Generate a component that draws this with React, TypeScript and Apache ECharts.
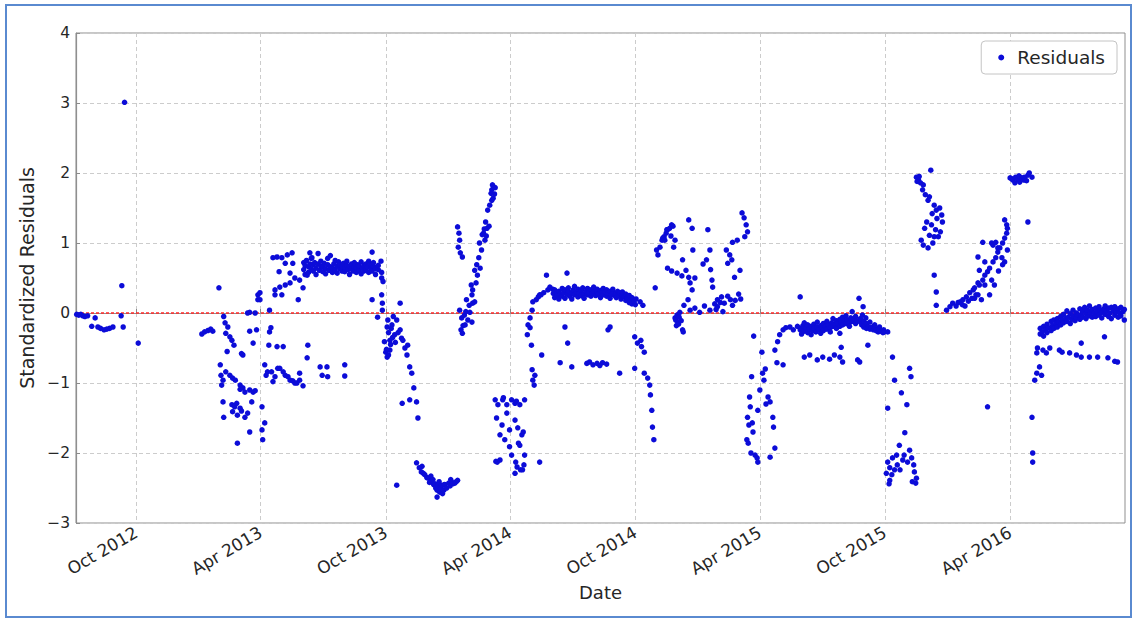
import { useEffect, useRef } from "react";
import * as echarts from "echarts";

type Obs = [string, number];

// Date range shown on the x axis and the half-yearly tick dates
const xStart = "2012-07-05";
const xEnd = "2016-09-16";
const xTickDates = [
  "2012-10-01", "2013-04-01", "2013-10-01", "2014-04-01",
  "2014-10-01", "2015-04-01", "2015-10-01", "2016-04-01",
];
const yTicks = [-3, -2, -1, 0, 1, 2, 3, 4];
const monthNames = ["Jan", "Feb", "Mar", "Apr", "May", "Jun", "Jul", "Aug", "Sep", "Oct", "Nov", "Dec"];

// Standardized residuals, grouped by period
const res2012: Obs[] = [
  ["2012-07-06", -0.02], ["2012-07-09", -0.03], ["2012-07-12", -0.02], ["2012-07-15", -0.04],
  ["2012-07-18", -0.05], ["2012-07-22", -0.04], ["2012-07-28", -0.19], ["2012-08-02", -0.07],
  ["2012-08-06", -0.2], ["2012-08-10", -0.22], ["2012-08-15", -0.24], ["2012-08-19", -0.23],
  ["2012-08-23", -0.22], ["2012-08-28", -0.2], ["2012-09-09", -0.04], ["2012-09-10", 0.39],
  ["2012-09-12", -0.2], ["2012-09-14", 3.01], ["2012-10-04", -0.43],
];

const res2013a: Obs[] = [
  ["2013-01-05", -0.3], ["2013-01-09", -0.27], ["2013-01-14", -0.25], ["2013-01-18", -0.23],
  ["2013-01-21", -0.26], ["2013-01-30", 0.36],
  ["2013-02-01", -0.74], ["2013-02-02", -0.89], ["2013-02-03", -1.03], ["2013-02-05", -0.96],
  ["2013-02-05", -1.27], ["2013-02-06", -0.05], ["2013-02-06", -1.49], ["2013-02-08", -0.14],
  ["2013-02-09", -0.29], ["2013-02-09", -0.84], ["2013-02-11", -0.55], ["2013-02-12", -0.2],
  ["2013-02-15", -0.34], ["2013-02-15", -0.89], ["2013-02-18", -0.39], ["2013-02-18", -1.31],
  ["2013-02-19", -0.93], ["2013-02-19", -1.41], ["2013-02-21", -0.46], ["2013-02-22", -1.34],
  ["2013-02-23", -0.96], ["2013-02-25", -1.29], ["2013-02-26", -1.86], ["2013-02-26", -1.46],
  ["2013-03-02", -1.03], ["2013-03-02", -1.09], ["2013-03-02", -1.36], ["2013-03-04", -0.58],
  ["2013-03-04", -1.4], ["2013-03-06", -1.07], ["2013-03-06", -0.6], ["2013-03-09", -1.13],
  ["2013-03-09", -1.49], ["2013-03-13", -1.43], ["2013-03-13", 0.0], ["2013-03-16", -1.1],
  ["2013-03-16", -1.7], ["2013-03-16", -0.26], ["2013-03-16", 0.01], ["2013-03-19", -1.27],
  ["2013-03-21", -1.13], ["2013-03-21", -0.43], ["2013-03-24", -1.11], ["2013-03-24", 0.0],
  ["2013-03-26", -0.24], ["2013-03-28", 0.26], ["2013-03-28", 0.19], ["2013-03-31", 0.19],
  ["2013-03-31", 0.29],
  ["2013-04-03", -1.34], ["2013-04-03", -1.67], ["2013-04-04", -1.81], ["2013-04-07", -1.57],
  ["2013-04-07", -0.74], ["2013-04-09", -0.89], ["2013-04-11", -0.84], ["2013-04-13", -0.46],
  ["2013-04-14", 0.04], ["2013-04-14", -0.27], ["2013-04-16", -0.21], ["2013-04-17", -0.84],
  ["2013-04-19", 0.79], ["2013-04-19", -0.98], ["2013-04-22", 0.33], ["2013-04-22", 0.26],
  ["2013-04-22", -0.91], ["2013-04-25", 0.8], ["2013-04-25", -0.48], ["2013-04-26", -0.79],
  ["2013-04-28", 0.59], ["2013-04-29", 0.37], ["2013-04-29", -0.79],
  ["2013-05-02", 0.79], ["2013-05-02", 0.26], ["2013-05-04", -0.48], ["2013-05-04", -0.84],
  ["2013-05-07", 0.71], ["2013-05-07", 0.4], ["2013-05-07", -0.89], ["2013-05-10", 0.83],
  ["2013-05-11", -0.91], ["2013-05-14", 0.57], ["2013-05-14", 0.43], ["2013-05-14", -0.96],
  ["2013-05-17", 0.86], ["2013-05-18", 0.71], ["2013-05-18", -0.97], ["2013-05-21", 0.5],
  ["2013-05-21", -1.0], ["2013-05-24", -1.0], ["2013-05-26", 0.19], ["2013-05-28", 0.47],
  ["2013-05-28", -0.86], ["2013-05-28", -0.96],
];

const res2013b: Obs[] = [
  ["2013-06-02", 0.36], ["2013-06-02", -1.04], ["2013-06-03", 0.62], ["2013-06-03", 0.72],
  ["2013-06-05", 0.68], ["2013-06-05", 0.55], ["2013-06-07", 0.75], ["2013-06-08", 0.54],
  ["2013-06-08", -0.64], ["2013-06-09", -0.46], ["2013-06-10", 0.66], ["2013-06-10", 0.58],
  ["2013-06-12", 0.86], ["2013-06-12", 0.7], ["2013-06-14", 0.63], ["2013-06-14", 0.78],
  ["2013-06-15", 0.79], ["2013-06-17", 0.6], ["2013-06-17", 0.69], ["2013-06-19", 0.72],
  ["2013-06-21", 0.64], ["2013-06-21", 0.55], ["2013-06-24", 0.7], ["2013-06-24", 0.85],
  ["2013-06-26", 0.61], ["2013-06-27", -0.77], ["2013-06-28", 0.67], ["2013-06-28", 0.74],
  ["2013-06-30", -0.89], ["2013-07-01", 0.59], ["2013-07-01", 0.66], ["2013-07-03", 0.71],
  ["2013-07-05", 0.63], ["2013-07-05", 0.56], ["2013-07-07", -0.77], ["2013-07-08", 0.69],
  ["2013-07-08", 0.78], ["2013-07-08", -0.91], ["2013-07-10", 0.61], ["2013-07-12", 0.66],
  ["2013-07-12", 0.82], ["2013-07-15", 0.58], ["2013-07-15", 0.64], ["2013-07-17", 0.7],
  ["2013-07-19", 0.62], ["2013-07-19", 0.75], ["2013-07-22", 0.67], ["2013-07-22", 0.57],
  ["2013-07-24", 0.73], ["2013-07-26", 0.63], ["2013-07-26", 0.69], ["2013-07-29", 0.6],
  ["2013-07-29", 0.66], ["2013-07-31", 0.71], ["2013-08-02", 0.65], ["2013-08-02", 0.59],
  ["2013-08-02", -0.74], ["2013-08-02", -0.9], ["2013-08-05", 0.68], ["2013-08-05", 0.74],
  ["2013-08-07", 0.62], ["2013-08-09", 0.67], ["2013-08-09", 0.55], ["2013-08-12", 0.7],
  ["2013-08-12", 0.63], ["2013-08-14", 0.6], ["2013-08-16", 0.66], ["2013-08-16", 0.72],
  ["2013-08-19", 0.58], ["2013-08-19", 0.64], ["2013-08-21", 0.69], ["2013-08-23", 0.61],
  ["2013-08-23", 0.67], ["2013-08-26", 0.73], ["2013-08-26", 0.56], ["2013-08-28", 0.64],
  ["2013-08-30", 0.68], ["2013-08-30", 0.6], ["2013-09-02", 0.62], ["2013-09-02", 0.7],
  ["2013-09-04", 0.66], ["2013-09-06", 0.58], ["2013-09-06", 0.74], ["2013-09-09", 0.64],
  ["2013-09-09", 0.69], ["2013-09-11", 0.87], ["2013-09-11", 0.19], ["2013-09-11", 0.6],
  ["2013-09-13", 0.67], ["2013-09-13", 0.72], ["2013-09-16", 0.55], ["2013-09-16", 0.63],
  ["2013-09-19", -0.06], ["2013-09-20", 0.62], ["2013-09-20", 0.68], ["2013-09-24", 0.74],
  ["2013-09-25", 0.5], ["2013-09-25", 0.58], ["2013-09-25", 0.26], ["2013-09-26", 0.14],
  ["2013-09-26", 0.04], ["2013-09-27", 0.45],
];

const res2013c: Obs[] = [
  ["2013-09-29", -0.41], ["2013-10-01", -0.56], ["2013-10-02", -0.52], ["2013-10-03", -0.63],
  ["2013-10-03", -0.2], ["2013-10-04", -0.1], ["2013-10-05", -0.6], ["2013-10-05", -0.28],
  ["2013-10-07", -0.39], ["2013-10-07", -0.53], ["2013-10-08", -0.45], ["2013-10-09", -0.22],
  ["2013-10-10", -0.17], ["2013-10-11", -0.35], ["2013-10-12", -0.05], ["2013-10-14", -0.31],
  ["2013-10-15", -0.42], ["2013-10-17", -0.1], ["2013-10-17", -2.46], ["2013-10-19", -0.28],
  ["2013-10-22", -0.24], ["2013-10-22", 0.14], ["2013-10-24", -0.36], ["2013-10-25", -1.29],
  ["2013-10-26", -0.39], ["2013-10-29", -0.5], ["2013-11-01", -0.6], ["2013-11-02", -0.46],
  ["2013-11-05", -0.77], ["2013-11-05", -1.24], ["2013-11-08", -0.86], ["2013-11-11", -1.07],
  ["2013-11-15", -1.27], ["2013-11-17", -1.5],
  ["2013-11-15", -2.14], ["2013-11-19", -2.21], ["2013-11-22", -2.27], ["2013-11-23", -2.19],
  ["2013-11-25", -2.29], ["2013-11-27", -2.31], ["2013-11-30", -2.35], ["2013-12-02", -2.36],
  ["2013-12-04", -2.42], ["2013-12-06", -2.33], ["2013-12-07", -2.39], ["2013-12-09", -2.38],
  ["2013-12-10", -2.45], ["2013-12-12", -2.44], ["2013-12-13", -2.5], ["2013-12-15", -2.53],
  ["2013-12-15", -2.63], ["2013-12-16", -2.47], ["2013-12-18", -2.41], ["2013-12-19", -2.56],
  ["2013-12-20", -2.48], ["2013-12-21", -2.5], ["2013-12-22", -2.46], ["2013-12-23", -2.58],
  ["2013-12-25", -2.53], ["2013-12-26", -2.45], ["2013-12-29", -2.5], ["2014-01-01", -2.43],
  ["2014-01-03", -2.47], ["2014-01-04", -2.38], ["2014-01-06", -2.42], ["2014-01-07", -2.44],
  ["2014-01-10", -2.43], ["2014-01-12", -2.41], ["2014-01-14", -2.39],
];

const res2014a: Obs[] = [
  ["2014-01-14", 1.23], ["2014-01-15", 0.94], ["2014-01-16", 1.14], ["2014-01-17", 1.04],
  ["2014-01-18", 0.86], ["2014-01-21", 0.8],
  ["2014-01-17", 0.04], ["2014-01-19", -0.24], ["2014-01-20", -0.07], ["2014-01-21", -0.29],
  ["2014-01-22", -0.18], ["2014-01-24", -0.03], ["2014-01-25", -0.17], ["2014-01-26", 0.02],
  ["2014-01-27", 0.19], ["2014-01-29", -0.1], ["2014-01-31", 0.11], ["2014-02-01", 0.01],
  ["2014-02-04", -0.13], ["2014-02-05", 0.14],
  ["2014-02-03", 0.4], ["2014-02-04", 0.26], ["2014-02-05", 0.33], ["2014-02-08", 0.16],
  ["2014-02-08", 0.61], ["2014-02-10", 0.43], ["2014-02-11", 0.69], ["2014-02-12", 0.54],
  ["2014-02-14", 0.79], ["2014-02-15", 1.0], ["2014-02-16", 0.64], ["2014-02-18", 0.9],
  ["2014-02-19", 1.12], ["2014-02-21", 1.14], ["2014-02-22", 1.2], ["2014-02-23", 1.04],
  ["2014-02-24", 1.3], ["2014-02-25", 1.1], ["2014-02-26", 1.21], ["2014-02-27", 1.47],
  ["2014-03-01", 1.24], ["2014-03-02", 1.54], ["2014-03-04", 1.71], ["2014-03-05", 1.61],
  ["2014-03-05", 1.76], ["2014-03-06", 1.83], ["2014-03-07", 1.64], ["2014-03-08", 1.8],
  ["2014-03-09", 1.7], ["2014-03-10", 1.79],
  ["2014-03-10", -1.24], ["2014-03-11", -2.12], ["2014-03-12", -1.5], ["2014-03-13", -2.13],
  ["2014-03-14", -1.31], ["2014-03-17", -1.74], ["2014-03-17", -2.1], ["2014-03-20", -1.6],
  ["2014-03-21", -1.24], ["2014-03-22", -1.21], ["2014-03-24", -1.81], ["2014-03-27", -1.31],
  ["2014-03-27", -1.43], ["2014-03-31", -1.67], ["2014-03-31", -1.91], ["2014-04-03", -1.24],
  ["2014-04-03", -2.03], ["2014-04-08", -2.29], ["2014-04-08", -1.29], ["2014-04-08", -1.53],
  ["2014-04-09", -2.13], ["2014-04-10", -1.26], ["2014-04-11", -2.2], ["2014-04-12", -1.64],
  ["2014-04-13", -1.86], ["2014-04-15", -1.31], ["2014-04-15", -1.89], ["2014-04-16", -2.24],
  ["2014-04-18", -1.74], ["2014-04-19", -2.24], ["2014-04-20", -1.7], ["2014-04-21", -2.17],
  ["2014-04-22", -1.24], ["2014-04-22", -2.03], ["2014-05-14", -2.13],
  ["2014-04-26", -0.31], ["2014-04-27", -0.17], ["2014-04-30", -0.07], ["2014-04-30", -0.21],
  ["2014-05-02", -0.46], ["2014-05-03", 0.04], ["2014-05-03", -0.81], ["2014-05-04", 0.16],
  ["2014-05-04", -0.96], ["2014-05-06", -1.03], ["2014-05-07", -0.89], ["2014-05-09", 0.19],
  ["2014-05-12", 0.23], ["2014-05-14", 0.26], ["2014-05-16", 0.26], ["2014-05-17", -0.6],
  ["2014-05-20", 0.29], ["2014-05-24", 0.54], ["2014-05-26", 0.33], ["2014-05-29", 0.37],
];

const res2014b: Obs[] = [
  ["2014-06-02", 0.34], ["2014-06-03", 0.28], ["2014-06-05", 0.22], ["2014-06-05", 0.33],
  ["2014-06-08", 0.3], ["2014-06-09", 0.25], ["2014-06-11", 0.31], ["2014-06-11", 0.2],
  ["2014-06-13", 0.27], ["2014-06-13", -0.71], ["2014-06-16", 0.35], ["2014-06-16", 0.24],
  ["2014-06-18", 0.29], ["2014-06-20", 0.21], ["2014-06-20", 0.33], ["2014-06-20", -0.2],
  ["2014-06-23", 0.27], ["2014-06-23", 0.57], ["2014-06-24", -0.43], ["2014-06-25", 0.31],
  ["2014-06-25", 0.36], ["2014-06-27", 0.24], ["2014-06-30", 0.29], ["2014-06-30", 0.2],
  ["2014-06-30", -0.77], ["2014-07-02", 0.33], ["2014-07-04", 0.26], ["2014-07-04", 0.38],
  ["2014-07-07", 0.3], ["2014-07-09", 0.23], ["2014-07-09", 0.34], ["2014-07-11", 0.28],
  ["2014-07-14", 0.32], ["2014-07-14", 0.25], ["2014-07-16", 0.36], ["2014-07-18", 0.27],
  ["2014-07-18", 0.21], ["2014-07-21", 0.31], ["2014-07-22", -0.72], ["2014-07-23", 0.26],
  ["2014-07-23", 0.35], ["2014-07-25", 0.29], ["2014-07-26", -0.7], ["2014-07-28", 0.33],
  ["2014-07-28", 0.24], ["2014-07-30", 0.28], ["2014-07-31", -0.74], ["2014-08-01", 0.31],
  ["2014-08-01", 0.37], ["2014-08-04", 0.25], ["2014-08-06", 0.3], ["2014-08-06", 0.34],
  ["2014-08-06", -0.72], ["2014-08-08", 0.27], ["2014-08-10", -0.75], ["2014-08-11", 0.32],
  ["2014-08-11", 0.22], ["2014-08-13", 0.29], ["2014-08-14", -0.71], ["2014-08-15", 0.35],
  ["2014-08-15", 0.26], ["2014-08-18", 0.3], ["2014-08-20", 0.24], ["2014-08-20", 0.33],
  ["2014-08-20", -0.73], ["2014-08-22", 0.28], ["2014-08-22", -0.24], ["2014-08-25", 0.31],
  ["2014-08-25", 0.21], ["2014-08-25", -0.2], ["2014-08-27", 0.26], ["2014-08-29", 0.3],
  ["2014-08-29", 0.34], ["2014-09-01", 0.25], ["2014-09-03", 0.28], ["2014-09-03", 0.22],
  ["2014-09-05", 0.31], ["2014-09-08", 0.24], ["2014-09-08", 0.29], ["2014-09-08", -0.86],
  ["2014-09-10", 0.2], ["2014-09-12", 0.26], ["2014-09-12", 0.3], ["2014-09-15", 0.23],
  ["2014-09-17", 0.27], ["2014-09-17", 0.18], ["2014-09-19", 0.21], ["2014-09-22", 0.25],
  ["2014-09-22", 0.15], ["2014-09-24", 0.19], ["2014-09-26", 0.22], ["2014-09-26", 0.13],
  ["2014-09-29", 0.16], ["2014-09-30", -0.79], ["2014-09-30", -0.34], ["2014-10-01", 0.12],
  ["2014-10-02", 0.2],
  ["2014-10-04", -0.43], ["2014-10-08", 0.16], ["2014-10-09", -0.39], ["2014-10-10", -0.48],
  ["2014-10-12", 0.11], ["2014-10-14", -0.56], ["2014-10-14", -0.86], ["2014-10-19", -0.93],
  ["2014-10-22", -1.03], ["2014-10-23", -1.17], ["2014-10-25", -1.39], ["2014-10-26", -1.63],
  ["2014-10-28", -1.81], ["2014-10-30", 0.36],
  ["2014-11-01", 0.9], ["2014-11-03", 0.83], ["2014-11-06", 0.94], ["2014-11-09", 1.04],
  ["2014-11-10", 1.07], ["2014-11-12", 1.09], ["2014-11-13", 1.04], ["2014-11-15", 1.14],
  ["2014-11-16", 1.19], ["2014-11-17", 1.19], ["2014-11-17", 0.64], ["2014-11-20", 1.21],
  ["2014-11-22", 1.1], ["2014-11-23", 1.26], ["2014-11-23", 0.6], ["2014-11-25", 1.24],
  ["2014-11-26", 0.94], ["2014-11-28", 1.04], ["2014-11-28", -0.07], ["2014-11-29", -0.1],
  ["2014-11-30", -0.18], ["2014-12-01", -0.03], ["2014-12-01", 0.57], ["2014-12-02", -0.13],
  ["2014-12-03", -0.16], ["2014-12-04", -0.06], ["2014-12-05", 0.01], ["2014-12-07", -0.11],
  ["2014-12-08", 0.53], ["2014-12-09", -0.24], ["2014-12-09", 0.76], ["2014-12-10", -0.27],
  ["2014-12-11", 0.11], ["2014-12-14", 0.61], ["2014-12-17", 0.19], ["2014-12-18", 1.33],
  ["2014-12-18", 0.51], ["2014-12-20", 0.43], ["2014-12-20", 0.04], ["2014-12-23", 1.21],
  ["2014-12-23", 0.33], ["2014-12-24", 0.9], ["2014-12-27", 0.5], ["2014-12-27", 0.07],
];

const res2015a: Obs[] = [
  ["2015-01-03", 0.01], ["2015-01-08", 0.7], ["2015-01-10", 0.1], ["2015-01-13", 0.76],
  ["2015-01-15", 1.19], ["2015-01-18", 0.9], ["2015-01-18", 0.04], ["2015-01-19", 0.62],
  ["2015-01-21", 0.47], ["2015-01-22", 0.37], ["2015-01-25", 0.13], ["2015-01-27", 0.05],
  ["2015-01-29", 0.09], ["2015-01-29", 0.19], ["2015-02-02", 0.15], ["2015-02-04", 0.23],
  ["2015-02-06", 0.02], ["2015-02-08", 0.14], ["2015-02-11", 0.9], ["2015-02-13", 0.24],
  ["2015-02-13", 0.71], ["2015-02-16", 0.83], ["2015-02-17", 0.19], ["2015-02-19", 0.76],
  ["2015-02-20", 0.11], ["2015-02-20", 1.01], ["2015-02-23", 0.51], ["2015-02-24", 0.18],
  ["2015-02-27", 1.04], ["2015-03-01", 0.27], ["2015-03-03", 0.61], ["2015-03-04", 0.2],
  ["2015-03-06", 1.43], ["2015-03-09", 1.36], ["2015-03-10", 1.09], ["2015-03-12", 1.26],
  ["2015-03-14", 1.16],
  ["2015-03-13", -1.81], ["2015-03-14", -1.49], ["2015-03-15", -1.86], ["2015-03-16", -1.6],
  ["2015-03-17", -1.2], ["2015-03-18", -1.34], ["2015-03-19", -2.0], ["2015-03-20", -0.91],
  ["2015-03-21", -1.57], ["2015-03-22", -1.7], ["2015-03-23", -0.33], ["2015-03-25", -2.03],
  ["2015-03-28", -2.07], ["2015-03-29", -2.13], ["2015-03-29", -1.39], ["2015-04-01", -1.1],
  ["2015-04-04", -0.56], ["2015-04-05", -0.86], ["2015-04-07", -0.96], ["2015-04-09", -0.8],
  ["2015-04-10", -1.3], ["2015-04-13", -1.2], ["2015-04-16", -1.27], ["2015-04-16", -2.06],
  ["2015-04-20", -1.49], ["2015-04-21", -1.63], ["2015-04-23", -1.93], ["2015-04-23", -0.53],
  ["2015-04-26", -0.71], ["2015-04-27", -0.41], ["2015-04-30", -0.31], ["2015-05-05", -0.24],
  ["2015-05-05", -0.74], ["2015-05-09", -0.21], ["2015-05-15", -0.2], ["2015-05-20", -0.24],
  ["2015-05-26", -0.19], ["2015-05-30", 0.23], ["2015-05-30", -0.24],
];

const res2015b: Obs[] = [
  ["2015-06-01", -0.22], ["2015-06-01", -0.3], ["2015-06-03", -0.18], ["2015-06-05", -0.26],
  ["2015-06-05", -0.14], ["2015-06-05", -0.63], ["2015-06-08", -0.21], ["2015-06-10", -0.28],
  ["2015-06-10", -0.17], ["2015-06-12", -0.23], ["2015-06-13", -0.6], ["2015-06-15", -0.19],
  ["2015-06-15", -0.31], ["2015-06-17", -0.25], ["2015-06-19", -0.16], ["2015-06-19", -0.22],
  ["2015-06-22", -0.27], ["2015-06-24", -0.2], ["2015-06-24", -0.13], ["2015-06-24", -0.67],
  ["2015-06-26", -0.24], ["2015-06-29", -0.18], ["2015-06-29", -0.29], ["2015-07-01", -0.21],
  ["2015-07-02", -0.63], ["2015-07-03", -0.15], ["2015-07-03", -0.25], ["2015-07-06", -0.19],
  ["2015-07-08", -0.23], ["2015-07-08", -0.12], ["2015-07-10", -0.17], ["2015-07-12", -0.66],
  ["2015-07-13", -0.21], ["2015-07-13", -0.27], ["2015-07-15", -0.14], ["2015-07-17", -0.19],
  ["2015-07-17", -0.08], ["2015-07-19", -0.6], ["2015-07-20", -0.16], ["2015-07-22", -0.22],
  ["2015-07-22", -0.11], ["2015-07-24", -0.15], ["2015-07-27", -0.09], ["2015-07-27", -0.19],
  ["2015-07-27", -0.63], ["2015-07-27", -0.29], ["2015-07-29", -0.13], ["2015-07-29", -0.49],
  ["2015-07-31", -0.17], ["2015-07-31", -0.06], ["2015-07-31", -0.7], ["2015-08-03", -0.11],
  ["2015-08-05", -0.15], ["2015-08-05", -0.04], ["2015-08-07", -0.1], ["2015-08-10", -0.14],
  ["2015-08-10", -0.19], ["2015-08-12", -0.07], ["2015-08-14", -0.12], ["2015-08-14", 0.02],
  ["2015-08-17", -0.09], ["2015-08-19", -0.15], ["2015-08-19", -0.05], ["2015-08-21", -0.11],
  ["2015-08-22", -0.67], ["2015-08-24", 0.21], ["2015-08-25", -0.7], ["2015-08-26", -0.13],
  ["2015-08-26", -0.08], ["2015-08-28", -0.17], ["2015-08-29", -0.03], ["2015-08-30", 0.09],
  ["2015-08-31", -0.12], ["2015-08-31", -0.2], ["2015-09-02", -0.18], ["2015-09-03", -0.07],
  ["2015-09-04", -0.15], ["2015-09-04", -0.22], ["2015-09-06", -0.46], ["2015-09-07", -0.2],
  ["2015-09-09", -0.23], ["2015-09-09", -0.13], ["2015-09-11", -0.21], ["2015-09-14", -0.24],
  ["2015-09-14", -0.19], ["2015-09-16", -0.17], ["2015-09-16", -0.22], ["2015-09-18", -0.25],
  ["2015-09-21", -0.23], ["2015-09-21", -0.27], ["2015-09-23", -0.2], ["2015-09-23", -0.24],
  ["2015-09-25", -0.26], ["2015-09-28", -0.28], ["2015-09-29", -0.24], ["2015-09-30", -0.27],
  ["2015-10-03", -2.29], ["2015-10-05", -1.36], ["2015-10-05", -2.13], ["2015-10-05", -0.27],
  ["2015-10-07", -2.44], ["2015-10-08", -2.21], ["2015-10-08", -2.39], ["2015-10-11", -2.31],
  ["2015-10-12", -0.63], ["2015-10-12", -2.07], ["2015-10-15", -0.96], ["2015-10-15", -2.24],
  ["2015-10-18", -2.03], ["2015-10-19", -2.17], ["2015-10-22", -1.89], ["2015-10-23", -2.24],
  ["2015-10-25", -1.14], ["2015-10-27", -2.1], ["2015-10-29", -2.03], ["2015-10-30", -1.71],
  ["2015-11-02", -1.31], ["2015-11-03", -2.13], ["2015-11-06", -0.79], ["2015-11-06", -1.96],
  ["2015-11-08", -0.91], ["2015-11-09", -2.07], ["2015-11-10", -2.41], ["2015-11-12", -2.17],
  ["2015-11-13", -2.27], ["2015-11-15", -2.43], ["2015-11-16", -2.36],
  ["2015-11-16", 1.94], ["2015-11-17", 1.88], ["2015-11-19", 1.9], ["2015-11-20", 1.95],
  ["2015-11-22", 1.86], ["2015-11-23", 1.04], ["2015-11-25", 1.76], ["2015-11-26", 1.83],
  ["2015-11-26", 0.97], ["2015-11-28", 1.21], ["2015-11-29", 1.69], ["2015-12-01", 1.3],
  ["2015-12-03", 1.61], ["2015-12-03", 0.93], ["2015-12-05", 1.66], ["2015-12-05", 1.11],
  ["2015-12-07", 2.04], ["2015-12-08", 1.26], ["2015-12-09", 1.42], ["2015-12-10", 1.0],
  ["2015-12-12", 1.54], ["2015-12-12", 1.09], ["2015-12-12", 0.54], ["2015-12-14", 1.19],
  ["2015-12-15", 1.47], ["2015-12-15", 0.3], ["2015-12-15", 0.11], ["2015-12-16", 1.35],
  ["2015-12-18", 1.09], ["2015-12-20", 1.5], ["2015-12-21", 1.16], ["2015-12-23", 1.4],
  ["2015-12-24", 1.3], ["2015-12-30", 0.04],
];

const res2016: Obs[] = [
  ["2016-01-04", 0.09], ["2016-01-08", 0.14], ["2016-01-13", 0.1], ["2016-01-16", 0.15],
  ["2016-01-19", 0.16], ["2016-01-22", 0.12], ["2016-01-23", 0.19], ["2016-01-26", 0.1],
  ["2016-01-28", 0.23], ["2016-01-31", 0.17], ["2016-02-02", 0.29], ["2016-02-05", 0.21],
  ["2016-02-07", 0.33], ["2016-02-09", 0.36], ["2016-02-09", 0.21], ["2016-02-11", 0.26],
  ["2016-02-14", 0.43], ["2016-02-14", 0.8], ["2016-02-14", 0.26], ["2016-02-16", 0.4],
  ["2016-02-16", 0.61], ["2016-02-19", 0.19], ["2016-02-21", 0.47], ["2016-02-21", 1.01],
  ["2016-02-24", 0.54], ["2016-02-24", 0.4], ["2016-02-24", 0.73], ["2016-02-28", 0.59],
  ["2016-02-28", -1.34], ["2016-03-02", 0.64], ["2016-03-02", 0.26], ["2016-03-05", 1.0],
  ["2016-03-05", 0.47], ["2016-03-07", 0.73], ["2016-03-07", 0.97], ["2016-03-09", 0.4],
  ["2016-03-11", 0.79], ["2016-03-11", 1.01], ["2016-03-14", 0.87], ["2016-03-14", 0.93],
  ["2016-03-15", 0.6], ["2016-03-17", 0.93], ["2016-03-20", 0.79], ["2016-03-21", 1.0],
  ["2016-03-21", 0.69], ["2016-03-24", 1.07], ["2016-03-24", 1.33], ["2016-03-24", 0.73],
  ["2016-03-27", 1.14], ["2016-03-27", 1.26], ["2016-03-28", 1.21], ["2016-03-28", 0.9],
  ["2016-04-01", 1.93], ["2016-04-03", 1.92], ["2016-04-05", 1.9], ["2016-04-08", 1.86],
  ["2016-04-09", 1.94], ["2016-04-12", 1.91], ["2016-04-14", 1.96], ["2016-04-15", 1.87],
  ["2016-04-18", 1.93], ["2016-04-21", 1.9], ["2016-04-22", 1.94], ["2016-04-25", 1.89],
  ["2016-04-27", 1.97], ["2016-04-27", 1.3], ["2016-04-29", 2.0], ["2016-05-03", 1.94],
  ["2016-05-03", -1.49], ["2016-05-04", -2.0], ["2016-05-04", -2.13],
  ["2016-05-07", -0.96], ["2016-05-10", -0.86], ["2016-05-10", -0.57], ["2016-05-11", -0.5],
  ["2016-05-14", -0.77], ["2016-05-15", -0.3], ["2016-05-15", -0.22], ["2016-05-17", -0.89],
  ["2016-05-18", -0.27], ["2016-05-19", -0.53], ["2016-05-20", -0.19], ["2016-05-20", -0.33],
  ["2016-05-23", -0.24], ["2016-05-24", -0.57], ["2016-05-25", -0.16], ["2016-05-25", -0.28],
  ["2016-05-27", -0.21], ["2016-05-29", -0.5], ["2016-05-31", -0.12], ["2016-05-31", -0.25],
  ["2016-06-02", -0.18], ["2016-06-04", -0.1], ["2016-06-04", -0.22], ["2016-06-07", -0.15],
  ["2016-06-09", -0.08], ["2016-06-09", -0.2], ["2016-06-11", -0.13], ["2016-06-12", -0.53],
  ["2016-06-14", -0.05], ["2016-06-14", -0.17], ["2016-06-16", -0.1], ["2016-06-16", -0.56],
  ["2016-06-18", -0.02], ["2016-06-18", -0.14], ["2016-06-21", -0.08], ["2016-06-23", 0.03],
  ["2016-06-23", -0.12], ["2016-06-25", -0.06], ["2016-06-27", -0.57], ["2016-06-28", -0.01],
  ["2016-06-28", -0.15], ["2016-06-30", -0.09], ["2016-07-02", 0.04], ["2016-07-02", -0.04],
  ["2016-07-05", -0.11], ["2016-07-07", 0.0], ["2016-07-07", -0.07], ["2016-07-07", -0.6],
  ["2016-07-09", -0.03], ["2016-07-12", 0.06], ["2016-07-12", -0.09], ["2016-07-14", -0.02],
  ["2016-07-14", -0.63], ["2016-07-14", -0.43], ["2016-07-16", 0.03], ["2016-07-16", -0.06],
  ["2016-07-19", 0.08], ["2016-07-21", -0.01], ["2016-07-21", -0.08], ["2016-07-23", 0.04],
  ["2016-07-26", -0.04], ["2016-07-26", 0.1], ["2016-07-26", -0.63], ["2016-07-28", 0.01],
  ["2016-07-30", -0.06], ["2016-07-30", 0.05], ["2016-08-02", 0.0], ["2016-08-04", 0.07],
  ["2016-08-04", -0.05], ["2016-08-06", 0.02], ["2016-08-07", -0.63], ["2016-08-09", -0.03],
  ["2016-08-09", 0.09], ["2016-08-11", 0.04], ["2016-08-13", -0.07], ["2016-08-13", 0.01],
  ["2016-08-16", 0.06], ["2016-08-17", -0.34], ["2016-08-18", -0.02], ["2016-08-18", 0.1],
  ["2016-08-20", 0.03], ["2016-08-22", -0.64], ["2016-08-23", -0.05], ["2016-08-23", 0.07],
  ["2016-08-25", 0.0], ["2016-08-27", 0.08], ["2016-08-27", -0.08], ["2016-08-30", 0.03],
  ["2016-09-01", -0.03], ["2016-09-01", 0.09], ["2016-09-01", -0.69], ["2016-09-03", 0.02],
  ["2016-09-05", -0.7], ["2016-09-06", -0.06], ["2016-09-06", 0.06], ["2016-09-08", 0.0],
  ["2016-09-10", 0.08], ["2016-09-10", -0.04], ["2016-09-13", 0.02], ["2016-09-15", -0.1],
  ["2016-09-15", 0.05],
];

const toTime = (s: string): number => {
  const [y, m, d] = s.split("-").map(Number);
  return new Date(y, m - 1, d).getTime();
};

const residuals = [
  ...res2012, ...res2013a, ...res2013b, ...res2013c, ...res2014a,
  ...res2014b, ...res2015a, ...res2015b, ...res2016,
].map(([d, v]) => [toTime(d), v]);

const xTicks = xTickDates.map(toTime);

const fmtDate = (value: number): string => {
  const dt = new Date(value);
  return `${monthNames[dt.getMonth()]} ${dt.getFullYear()}`;
};

const fmtNum = (v: number): string => (v < 0 ? `\u2212${Math.abs(v)}` : `${v}`);

const FONT = "DejaVu Sans";
const INK = "#262626";

export default function App() {
  const ref = useRef<HTMLDivElement>(null);

  useEffect(() => {
    if (!ref.current) return;
    const chart = echarts.init(ref.current, undefined, { renderer: "svg" });
    chart.setOption({
      animation: false,
      backgroundColor: "#ffffff",
      textStyle: { fontFamily: FONT },
      grid: {
        left: 76,
        right: 12,
        top: 33,
        bottom: 98,
        show: true,
        borderColor: "#8f8f8f",
        borderWidth: 1,
        containLabel: false,
        outerBoundsMode: "none",
      },
      legend: {
        data: ["Residuals"],
        right: 20,
        top: 41,
        icon: "circle",
        itemWidth: 22,
        itemHeight: 6,
        padding: [7, 12, 7, 17],
        borderColor: "#c4c4c4",
        borderWidth: 1,
        borderRadius: 4,
        backgroundColor: "#ffffff",
        textStyle: { fontFamily: FONT, fontSize: 18.5, color: INK },
      },
      xAxis: {
        // dates are carried as millisecond timestamps on a linear axis
        type: "value",
        min: toTime(xStart),
        max: toTime(xEnd),
        name: "Date",
        nameLocation: "middle",
        nameGap: 60,
        nameTextStyle: { fontFamily: FONT, fontSize: 18, color: INK },
        axisLine: { show: true, lineStyle: { color: "#8f8f8f", width: 1.2 } },
        axisTick: {
          show: true,
          inside: true,
          length: 4,
          customValues: xTicks,
          lineStyle: { color: "#8a8a8a" },
        },
        axisLabel: {
          customValues: xTicks,
          rotate: 30,
          margin: 8,
          fontFamily: FONT,
          fontSize: 17,
          color: INK,
          formatter: (v: number) => fmtDate(v),
        },
        splitLine: {
          show: true,
          lineStyle: { color: "#cccccc", type: [4, 3], width: 1 },
        },
      },
      yAxis: {
        type: "value",
        min: yTicks[0],
        max: yTicks[yTicks.length - 1],
        interval: 1,
        name: "Standardized Residuals",
        nameLocation: "middle",
        nameGap: 33,
        nameTextStyle: { fontFamily: FONT, fontSize: 19, color: INK },
        axisLine: { show: true, lineStyle: { color: "#8f8f8f", width: 1.2 } },
        axisTick: { show: true, inside: true, length: 4, lineStyle: { color: "#8a8a8a" } },
        axisLabel: {
          margin: 6,
          fontFamily: FONT,
          fontSize: 15.5,
          color: INK,
          formatter: (v: number) => fmtNum(v),
        },
        splitLine: {
          show: true,
          lineStyle: { color: "#cccccc", type: [4, 3], width: 1 },
        },
      },
      series: [
        {
          name: "Residuals",
          type: "scatter",
          data: residuals,
          symbol: "circle",
          symbolSize: 5.5,
          itemStyle: { color: "#0c0cd8", opacity: 1 },
          z: 3,
          markLine: {
            silent: true,
            symbol: ["none", "none"],
            label: { show: false },
            lineStyle: { color: "#ff2a2a", type: [3, 2], width: 1.6, opacity: 1 },
            emphasis: { disabled: true },
            data: [{ yAxis: 0 }],
            z: 2,
          },
        },
      ],
      graphic: [
        {
          type: "rect",
          silent: true,
          shape: { x: 6, y: 5, width: 1125, height: 612 },
          style: { fill: "none", stroke: "#5a8ad0", lineWidth: 2 },
        },
      ],
    });
    return () => chart.dispose();
  }, []);

  return (
    <div
      ref={ref}
      style={{ position: "absolute", left: 0, top: 0, width: 1137, height: 621, background: "#fff" }}
    />
  );
}
